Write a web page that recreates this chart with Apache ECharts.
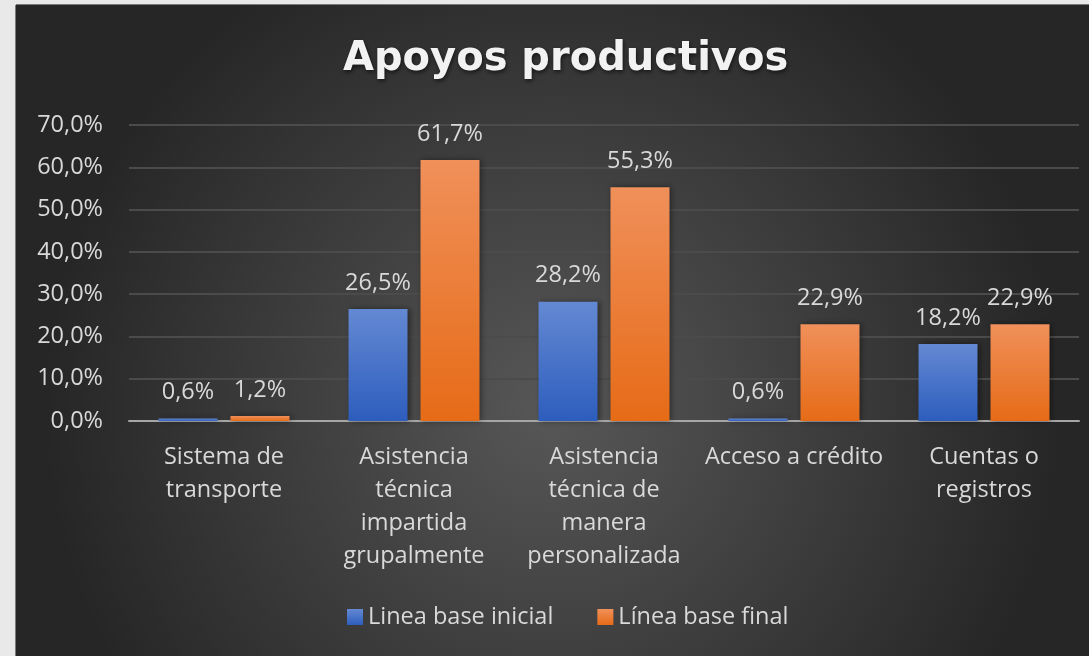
<!DOCTYPE html>
<html>
<head>
<meta charset="utf-8">
<script src="https://cdn.jsdelivr.net/npm/echarts@6/dist/echarts.min.js"></script>
<style>
    html, body { margin: 0; padding: 0; background: #e9e9e9; }
    #apoyosChart {
        position: absolute;
        left: 16px;
        top: 5px;
        width: 1073px;
        height: 651px;
        box-shadow: -1px 0 0 #7a7a7a, 0 -1px 0 #7a7a7a;
    }
</style>
</head>
<body>
<div id="apoyosChart"></div>
<script>
// datos
const categorias = [
    "Sistema de\ntransporte",
    "Asistencia\ntécnica\nimpartida\ngrupalmente",
    "Asistencia\ntécnica de\nmanera\npersonalizada",
    "Acceso a crédito",
    "Cuentas o\nregistros"
];
const lineaInicial = [0.6, 26.5, 28.2, 0.6, 18.2];
const lineaFinal = [1.2, 61.7, 55.3, 22.9, 22.9];
const nombresSeries = ["Linea base inicial", "Línea base final"];

const fuente = "Open Sans";
const colorTexto = "#d9d9d9";
const tamTexto = 23.5;

function fmt(v) {
    return v.toFixed(1).replace(".", ",") + "%";
}

function degradado(arriba, abajo) {
    return new echarts.graphic.LinearGradient(0, 0, 0, 1, [
        { offset: 0, color: arriba },
        { offset: 1, color: abajo }
    ]);
}

function serie(nombre, datos, arriba, abajo) {
    return {
        name: nombre,
        type: "bar",
        data: datos,
        barWidth: 59,
        barGap: "22%",
        itemStyle: {
            color: degradado(arriba, abajo),
            shadowBlur: 6,
            shadowOffsetX: 2,
            shadowColor: "rgba(0,0,0,0.45)"
        },
        label: {
            show: true,
            position: "top",
            distance: 14,
            color: colorTexto,
            fontFamily: fuente,
            fontSize: tamTexto,
            formatter: function (p) { return fmt(p.value); }
        }
    };
}

const myChart = echarts.init(document.getElementById("apoyosChart"));
const option = {
    backgroundColor: {
        type: "radial",
        x: 0.5, y: 0.62, r: 0.78,
        colorStops: [
            { offset: 0, color: "#575757" },
            { offset: 1, color: "#262626" }
        ]
    },
    title: {
        text: "Apoyos productivos",
        left: 322,
        top: 30,
        textStyle: {
            color: "#f2f2f2",
            fontFamily: "DejaVu Sans",
            fontWeight: "bold",
            fontSize: 40,
            textShadowColor: "rgba(0,0,0,0.6)",
            textShadowBlur: 4,
            textShadowOffsetX: 1,
            textShadowOffsetY: 2
        }
    },
    legend: {
        data: nombresSeries,
        left: 326,
        top: 595,
        icon: "rect",
        itemWidth: 16,
        itemHeight: 16,
        itemGap: 44,
        textStyle: {
            color: colorTexto,
            fontFamily: fuente,
            fontSize: tamTexto
        }
    },
    grid: {
        left: 113,
        right: 10,
        top: 120,
        bottom: 235,
        containLabel: false
    },
    xAxis: {
        type: "category",
        data: categorias,
        axisTick: { show: false },
        axisLine: { lineStyle: { color: "#a6a6a6", width: 2 } },
        axisLabel: {
            interval: 0,
            margin: 20,
            color: colorTexto,
            fontFamily: fuente,
            fontSize: tamTexto,
            lineHeight: 33
        }
    },
    yAxis: {
        type: "value",
        min: 0,
        max: 70,
        interval: 10,
        axisLine: { show: false },
        axisTick: { show: false },
        splitLine: { lineStyle: { color: "#4b4b4b", width: 2 } },
        axisLabel: {
            margin: 26,
            color: colorTexto,
            fontFamily: fuente,
            fontSize: tamTexto,
            formatter: function (v) { return fmt(v); }
        }
    },
    series: [
        serie(nombresSeries[0], lineaInicial, "#6489d3", "#2d5dbd"),
        serie(nombresSeries[1], lineaFinal, "#f0905a", "#e66b17")
    ]
};
myChart.setOption(option);
window.addEventListener("resize", () => {
    myChart.resize();
});
</script>
</body>
</html>
